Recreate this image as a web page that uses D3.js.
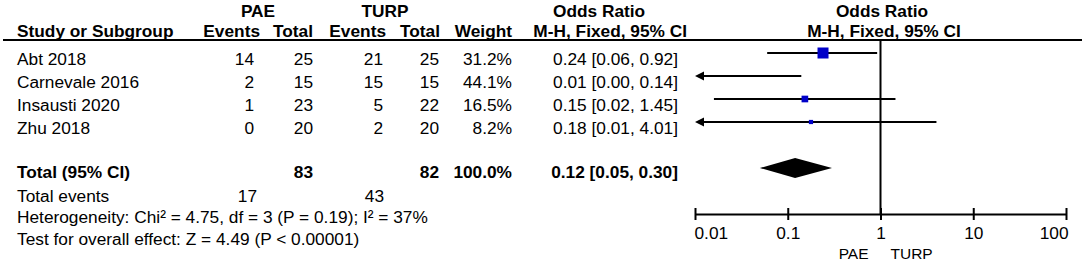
<!DOCTYPE html>
<html>
<head>
<meta charset="utf-8">
<script src="https://cdn.jsdelivr.net/npm/d3@7"></script>
<style>
  body { margin: 0; background: #fff; }
  svg text { font-family: "Liberation Sans", Arial, sans-serif; font-size: 17.3px; fill: #000; }
  .b { font-weight: bold; }
</style>
</head>
<body>
<svg id="chart" width="1084" height="264"></svg>
<script>
// study data
var studies = ["Abt 2018", "Carnevale 2016", "Insausti 2020", "Zhu 2018"];
var paeEvents = [14, 2, 1, 0];
var paeTotal = [25, 15, 23, 20];
var turpEvents = [21, 15, 5, 2];
var turpTotal = [25, 15, 22, 20];
var weights = [31.2, 44.1, 16.5, 8.2];
var oddsRatio = [0.24, 0.0068, 0.153, 0.178];
var ciLow = [0.06, 0.0003, 0.016, 0.0085];
var ciHigh = [0.92, 0.14, 1.45, 4.01];

// pooled
var totalPae = 83, totalTurp = 82, totalWeight = 100.0;
var totalOR = 0.12, totalLow = 0.05, totalHigh = 0.30;
var eventsPae = 17, eventsTurp = 43;
var heterogeneity = "Heterogeneity: Chi² = 4.75, df = 3 (P = 0.19); I² = 37%";
var overallEffect = "Test for overall effect: Z = 4.49 (P < 0.00001)";

var tickValues = [0.01, 0.1, 1, 10, 100];
var tickLabels = ["0.01", "0.1", "1", "10", "100"];

var svg = d3.select("#chart");

var x = d3.scaleLog().domain([0.01, 100]).range([695, 1066]);
var size = d3.scaleLinear().domain([0, 31.2]).range([1.8, 11]);

function txt(xp, yp, s, anchor, bold) {
    return svg.append("text")
        .attr("x", xp).attr("y", yp)
        .attr("text-anchor", anchor || "start")
        .attr("class", bold ? "b" : null)
        .text(s);
}
function fmt(v) { return v.toFixed(2); }

// header
txt(258, 17, "PAE", "middle", true);
txt(385, 17, "TURP", "middle", true);
txt(553, 17, "Odds Ratio", "start", true);
txt(882, 17, "Odds Ratio", "middle", true);
txt(17, 37, "Study or Subgroup", "start", true);
txt(260, 37, "Events", "end", true);
txt(313, 37, "Total", "end", true);
txt(386, 37, "Events", "end", true);
txt(440, 37, "Total", "end", true);
txt(512, 37, "Weight", "end", true);
txt(687, 37, "M-H, Fixed, 95% CI", "end", true);
txt(884, 37, "M-H, Fixed, 95% CI", "middle", true);

svg.append("line")
    .attr("x1", 3).attr("x2", 1082).attr("y1", 40).attr("y2", 40)
    .attr("stroke", "#000").attr("stroke-width", 2);

// null line
svg.append("line")
    .attr("x1", x(1)).attr("x2", x(1)).attr("y1", 40).attr("y2", 214)
    .attr("stroke", "#000").attr("stroke-width", 2);

// study rows
studies.forEach(function(name, i) {
    var yb = 65 + i * 23;
    txt(17, yb, name);
    txt(254, yb, paeEvents[i], "end");
    txt(313, yb, paeTotal[i], "end");
    txt(383, yb, turpEvents[i], "end");
    txt(439, yb, turpTotal[i], "end");
    txt(512, yb, weights[i].toFixed(1) + "%", "end");
    txt(678, yb, fmt(oddsRatio[i]) + " [" + fmt(ciLow[i]) + ", " + fmt(ciHigh[i]) + "]", "end");

    var yc = yb - 12;
    var lo = Math.max(ciLow[i], x.domain()[0]);
    var hi = Math.min(ciHigh[i], x.domain()[1]);
    var left = x(lo), right = x(hi);
    if (ciLow[i] < x.domain()[0]) left += 6;
    svg.append("line")
        .attr("x1", left).attr("x2", right).attr("y1", yc).attr("y2", yc)
        .attr("stroke", "#000").attr("stroke-width", 2);
    // arrow when CI runs off the scale
    if (ciLow[i] < x.domain()[0]) {
        var ax = x(x.domain()[0]);
        svg.append("path")
            .attr("d", "M" + ax + "," + yc + "L" + (ax + 9) + "," + (yc - 4.5) + "L" + (ax + 9) + "," + (yc + 4.5) + "Z")
            .attr("fill", "#000");
    }
    if (oddsRatio[i] >= x.domain()[0]) {
        var s = size(weights[i]);
        svg.append("rect")
            .attr("x", x(oddsRatio[i]) - s / 2).attr("y", yc - s / 2)
            .attr("width", s).attr("height", s)
            .attr("fill", "#0000c8");
    }
});

// totals
txt(17, 178, "Total (95% CI)", "start", true);
txt(313, 178, totalPae, "end", true);
txt(439, 178, totalTurp, "end", true);
txt(512, 178, totalWeight.toFixed(1) + "%", "end", true);
txt(678, 178, fmt(totalOR) + " [" + fmt(totalLow) + ", " + fmt(totalHigh) + "]", "end", true);

var dy = 168;
svg.append("path")
    .attr("d", "M" + x(totalLow) + "," + dy + "L" + x(totalOR) + "," + (dy - 10) +
        "L" + x(totalHigh) + "," + dy + "L" + x(totalOR) + "," + (dy + 10) + "Z")
    .attr("fill", "#000");

txt(17, 202, "Total events");
txt(257, 202, eventsPae, "end");
txt(384, 202, eventsTurp, "end");
txt(17, 223, heterogeneity);
txt(17, 245, overallEffect);

// axis
var axis = d3.axisBottom(x).tickValues(tickValues)
    .tickFormat(function(d, i) { return tickLabels[i]; })
    .tickSize(6).tickSizeOuter(0);
var g = svg.append("g").attr("transform", "translate(0,214)").call(axis);
g.select(".domain").attr("stroke", "#000").attr("stroke-width", 2);
g.selectAll(".tick line").attr("y1", -6).attr("y2", 6).attr("stroke", "#000").attr("stroke-width", 2);
g.selectAll(".tick text")
    .attr("y", 25).attr("dy", null)
    .style("font-size", "17.3px")
    .attr("text-anchor", function(d, i) { return i === 0 ? "start" : (i === tickValues.length - 1 ? "end" : "middle"); })
    .attr("dx", function(d, i) { return i === 0 ? -1 : (i === tickValues.length - 1 ? 2 : 0); });

svg.append("text").attr("x", x(1) - 12).attr("y", 259).attr("text-anchor", "end")
    .style("font-size", "15.5px").text("PAE");
svg.append("text").attr("x", x(1) + 10).attr("y", 259).attr("text-anchor", "start")
    .style("font-size", "15.5px").text("TURP");
</script>
</body>
</html>
